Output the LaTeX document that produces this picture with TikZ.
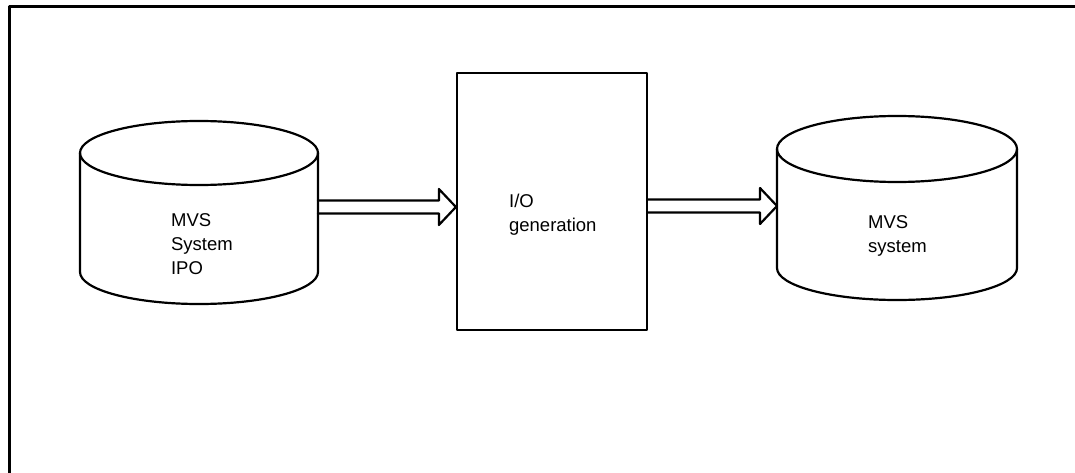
\documentclass[tikz,border=0pt]{standalone}
\usepackage{fontspec}
\setmainfont{Liberation Sans}
\usetikzlibrary{calc}
\tikzset{
  frameline/.style={line width=3pt},
  disk label/.style={anchor=base west, align=left, inner sep=0pt,
    font=\fontsize{18.5}{24}\selectfont},
}
\begin{document}
\begin{tikzpicture}[x=1pt, y=-1pt, line join=round, line cap=round, line width=2.2pt]
  % Page of the reference
  \useasboundingbox (0,0) rectangle (1075,473);
  % Outer frame (only its top and left edges fall on the page)
  \draw[frameline] (9,480) -- (9,7) -- (1080,7);

  % Define parameters
  \def\rx{119} % Half-width of a disk
  \def\ry{32}  % Half-height of the end ellipses
  \def\shaft{6.5} % Half-width of an arrow shaft
  \def\head{18}   % Half-width of an arrow head
  \def\hlen{17}   % Length of an arrow head

  % Left disk
  \def\ipox{199}
  \coordinate (ipoT) at (\ipox,153); % Centre of top ellipse
  \coordinate (ipoB) at (\ipox,272); % Centre of bottom ellipse
  \draw (ipoT) ellipse [x radius=\rx, y radius=\ry];
  \draw (\ipox-\rx,153) -- (\ipox-\rx,272)
    arc [start angle=180, end angle=0, x radius=\rx, y radius=\ry] -- (\ipox+\rx,153);
  % (base of a multi-line label is its last line)
  \node[disk label] (ipo) at (170,274) {MVS\\System\\IPO};
  \coordinate (ipoE) at (\ipox+\rx,207); % Right side, where the arrow leaves

  % Centre box
  \node[draw, minimum width=190pt, minimum height=257pt, inner sep=0pt] (iogen) at (552,201.5) {};
  \node[disk label] (iogenText) at (508,231) {I/O\\generation};

  % Right disk
  \def\sysx{897}
  \coordinate (sysT) at (\sysx,149);
  \coordinate (sysB) at (\sysx,268);
  \draw (sysT) ellipse [x radius=\rx+1, y radius=\ry+1];
  \draw (\sysx-\rx-1,149) -- (\sysx-\rx-1,268)
    arc [start angle=180, end angle=0, x radius=\rx+1, y radius=\ry] -- (\sysx+\rx+1,149);
  \node[disk label] (sys) at (867,252) {MVS\\system};
  \coordinate (sysW) at (\sysx-\rx-1,206); % Left side, where the arrow lands

  % Hollow arrow from left disk to box
  \coordinate (tipA) at (iogen.west |- ipoE);
  \draw ($(ipoE)+(0,-\shaft)$) -- ($(tipA)+(-\hlen,-\shaft)$) -- ($(tipA)+(-\hlen,-\head)$)
    -- (tipA) -- ($(tipA)+(-\hlen,\head)$) -- ($(tipA)+(-\hlen,\shaft)$) -- ($(ipoE)+(0,\shaft)$);

  % Hollow arrow from box to right disk
  \coordinate (tailB) at (iogen.east |- sysW);
  \draw ($(tailB)+(0,-\shaft)$) -- ($(sysW)+(-\hlen,-\shaft)$) -- ($(sysW)+(-\hlen,-\head)$)
    -- (sysW) -- ($(sysW)+(-\hlen,\head)$) -- ($(sysW)+(-\hlen,\shaft)$) -- ($(tailB)+(0,\shaft)$);
\end{tikzpicture}
\end{document}
